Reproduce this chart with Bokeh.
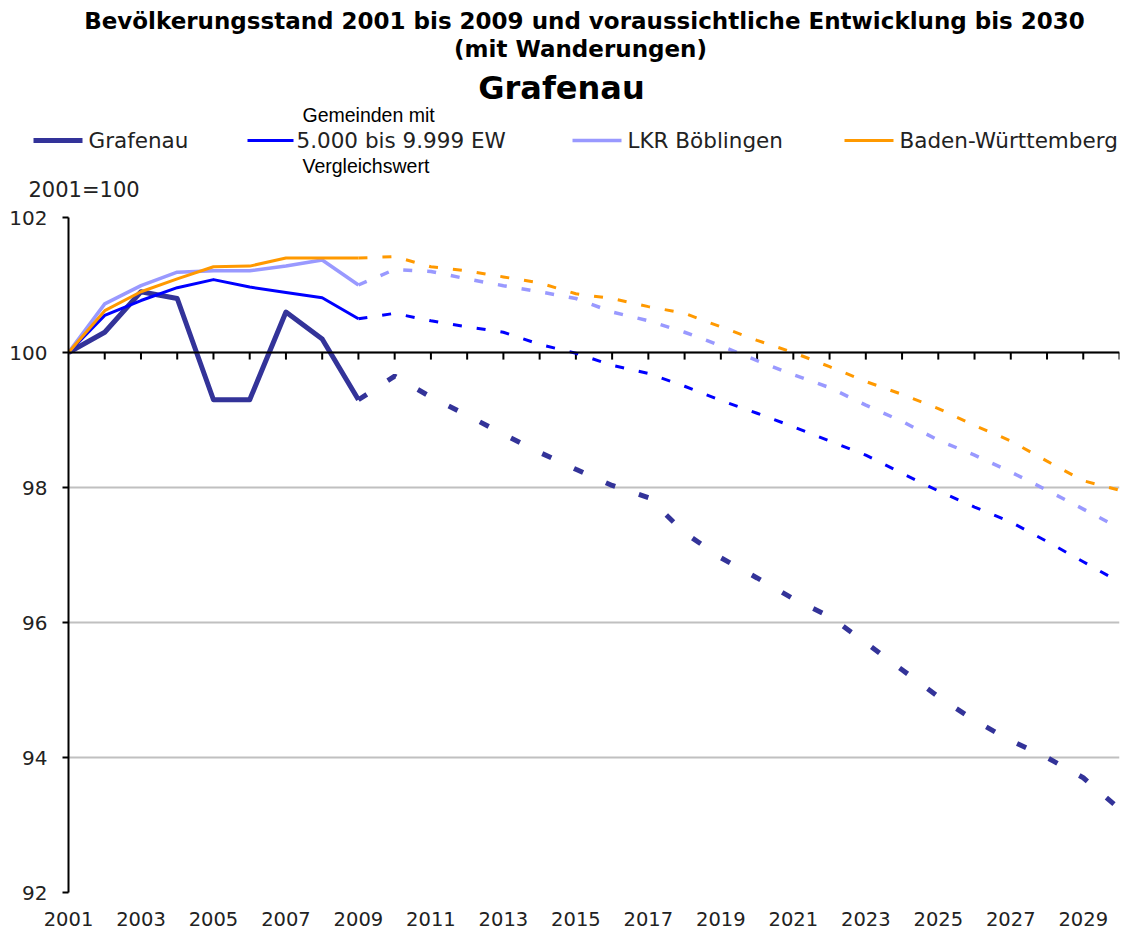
from bokeh.plotting import figure
from bokeh.models import Range1d, FixedTicker, Span
from bokeh.layouts import column
from bokeh.embed import file_html
from bokeh.resources import INLINE
from bokeh.core.properties import value

# ---------------- data ----------------
years_hist = list(range(2001, 2010))
years_proj = list(range(2009, 2031))
all_years = list(range(2001, 2031))
label_years = list(range(2001, 2031, 2))
y_ticks = [92, 94, 96, 98, 100, 102]

grafenau_hist = [100.0, 100.3, 100.9, 100.8, 99.3, 99.3, 100.6, 100.2, 99.3]
grafenau_proj = [99.3, 99.65, 99.34, 99.07, 98.79, 98.52, 98.27, 98.03, 97.85, 97.33,
                 96.96, 96.66, 96.35, 96.09, 95.7, 95.3, 94.9, 94.55, 94.25, 94.0,
                 93.7, 93.24]

gemeinden_hist = [100.0, 100.55, 100.77, 100.96, 101.08, 100.97, 100.89, 100.81, 100.5]
gemeinden_proj = [100.5, 100.58, 100.47, 100.38, 100.3, 100.12, 99.99, 99.81, 99.69, 99.5,
                  99.29, 99.1, 98.9, 98.69, 98.48, 98.21, 97.95, 97.71, 97.49, 97.2,
                  96.9, 96.6]

lkr_hist = [100.0, 100.72, 100.99, 101.19, 101.21, 101.21, 101.28, 101.37, 101.0]
lkr_proj = [101.0, 101.23, 101.2, 101.09, 100.99, 100.9, 100.8, 100.6, 100.47, 100.3,
            100.1, 99.88, 99.67, 99.48, 99.22, 98.98, 98.7, 98.48, 98.23, 97.96,
            97.68, 97.4]

bw_hist = [100.0, 100.62, 100.9, 101.09, 101.27, 101.28, 101.4, 101.4, 101.4]
bw_proj = [101.4, 101.42, 101.27, 101.21, 101.12, 101.03, 100.87, 100.8, 100.68, 100.58,
           100.38, 100.18, 100.0, 99.79, 99.57, 99.38, 99.17, 98.92, 98.69, 98.39,
           98.1, 97.96]

series_names = ["Grafenau", "5.000 bis 9.999 EW", "LKR Böblingen", "Baden-Württemberg"]
series_colors = ["#333399", "#0000FF", "#9999FF", "#FF9900"]
series_widths = [5, 3, 3.5, 3]
series_dash = ["10 25", "9 15", "9 15", "9 15"]

title1 = "Bevölkerungsstand 2001 bis 2009 und voraussichtliche Entwicklung bis 2030"
title2 = "(mit Wanderungen)"
title3 = "Grafenau"
unit_label = "2001=100"
legend_note_top = "Gemeinden mit"
legend_note_bottom = "Vergleichswert"

VERDANA = "DejaVu Sans"
ARIAL = "Liberation Sans"

W = 1135
HEADER_H = 202
CHART_H = 732

# ---------------- header (titles + legend) ----------------
h = figure(width=W, height=HEADER_H, x_range=Range1d(0, W), y_range=Range1d(HEADER_H, 0),
           output_backend="svg", toolbar_location=None,
           x_axis_location=None, y_axis_location=None,
           min_border=0, min_border_left=0, min_border_right=0,
           min_border_top=0, min_border_bottom=0)
h.outline_line_color = None
h.grid.visible = False
h.frame_align = False


def htext(x, y, txt, font, size, bold=False, color="#000000", align="left"):
    h.text(x=[x], y=[y], text=[txt], text_font=value(font),
           text_font_style="bold" if bold else "normal",
           text_font_size=size, text_align=align, text_baseline="middle",
           text_color=color)


htext(584, 20, title1, VERDANA, "23px", bold=True, align="center")
htext(580, 48, title2, VERDANA, "23px", bold=True, align="center")
htext(561, 87, title3, VERDANA, "32px", bold=True, align="center")

# legend swatches and labels
sw_x0 = [33, 247, 572, 844]
sw_x1 = [82, 293, 621, 893]
lbl_x = [88, 296, 627, 899]
for i in range(4):
    h.line(x=[sw_x0[i], sw_x1[i]], y=[140, 140], line_color=series_colors[i],
           line_width=series_widths[i])
    htext(lbl_x[i], 140, series_names[i], VERDANA, "21.5px", color="#222222")
htext(302, 114, legend_note_top, ARIAL, "19.5px")
htext(302, 165, legend_note_bottom, ARIAL, "19.5px")
htext(28, 189, unit_label, VERDANA, "21px", color="#222222")

# ---------------- chart ----------------
p = figure(width=W, height=CHART_H, x_range=Range1d(2001, 2030), y_range=Range1d(92, 102),
           output_backend="svg", toolbar_location=None,
           min_border_left=68, min_border_right=W - 1119, min_border_top=15,
           min_border_bottom=42)
p.frame_align = False
p.outline_line_color = None
p.xgrid.visible = False
p.ygrid.ticker = FixedTicker(ticks=y_ticks)
p.ygrid.grid_line_color = "#C0C0C0"
p.ygrid.grid_line_width = 2

p.yaxis.ticker = FixedTicker(ticks=y_ticks)
p.yaxis.axis_line_color = "#000000"
p.yaxis.axis_line_width = 2
p.yaxis.major_tick_out = 6
p.yaxis.major_tick_in = 0
p.yaxis.major_tick_line_width = 2
p.yaxis.major_tick_line_color = "#000000"
p.yaxis.minor_tick_line_color = None
p.yaxis.major_label_text_font = VERDANA
p.yaxis.major_label_text_font_size = "20px"
p.yaxis.major_label_text_color = "#222222"
p.yaxis.major_label_standoff = 15

p.xaxis.ticker = FixedTicker(ticks=label_years)
p.xaxis.axis_line_color = None
p.xaxis.major_tick_line_color = None
p.xaxis.minor_tick_line_color = None
p.xaxis.major_tick_out = 0
p.xaxis.major_tick_in = 0
p.xaxis.major_label_text_font = VERDANA
p.xaxis.major_label_text_font_size = "19.5px"
p.xaxis.major_label_text_color = "#222222"
p.xaxis.major_label_standoff = 19

# category axis crossing at 100
p.add_layout(Span(location=100, dimension="width", line_color="#000000", line_width=2))
tick_len = 0.105
p.segment(x0=all_years[1:], y0=[100] * (len(all_years) - 1),
          x1=all_years[1:], y1=[100 - tick_len] * (len(all_years) - 1),
          line_color="#000000", line_width=2)

hist = [grafenau_hist, gemeinden_hist, lkr_hist, bw_hist]
proj = [grafenau_proj, gemeinden_proj, lkr_proj, bw_proj]
for i in range(4):
    p.line(years_hist, hist[i], line_color=series_colors[i], line_width=series_widths[i],
           line_join="round")
    p.line(years_proj, proj[i], line_color=series_colors[i], line_width=series_widths[i],
           line_dash=series_dash[i])

layout = column(h, p, spacing=0)
open("out.html", "w").write(file_html(layout, INLINE))
